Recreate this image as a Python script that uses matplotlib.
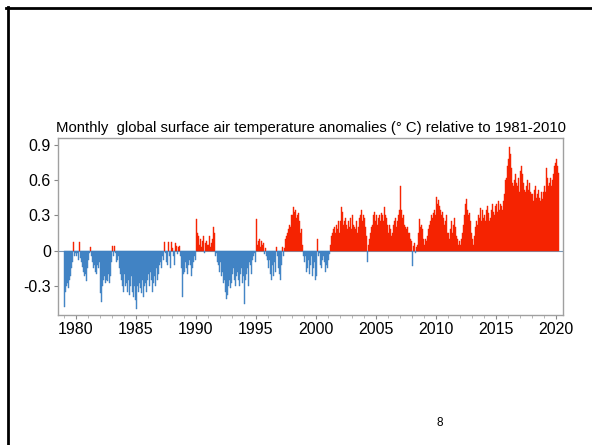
import matplotlib
matplotlib.use("Agg")
import matplotlib.pyplot as plt
from matplotlib.lines import Line2D
import numpy as np

# Monthly anomalies (deg C), Jan 1979 - Mar 2020
anom = {
    1979: [-0.48, -0.35, -0.30, -0.28, -0.32, -0.25, -0.22, -0.15, -0.10, 0.07, -0.05, -0.02],
    1980: [-0.05, -0.02, -0.08, 0.07, -0.06, -0.10, -0.14, -0.18, -0.22, -0.20, -0.26, -0.15],
    1981: [-0.08, -0.02, 0.03, -0.05, -0.10, -0.15, -0.12, -0.18, -0.20, -0.12, -0.15, -0.10],
    1982: [-0.36, -0.44, -0.30, -0.25, -0.22, -0.28, -0.25, -0.26, -0.20, -0.28, -0.22, -0.10],
    1983: [0.04, -0.05, 0.04, -0.02, -0.10, -0.08, -0.05, -0.15, -0.20, -0.25, -0.30, -0.35],
    1984: [-0.20, -0.30, -0.28, -0.35, -0.25, -0.38, -0.30, -0.22, -0.35, -0.40, -0.30, -0.42],
    1985: [-0.50, -0.30, -0.35, -0.28, -0.32, -0.36, -0.25, -0.40, -0.30, -0.28, -0.35, -0.25],
    1986: [-0.20, -0.30, -0.18, -0.25, -0.35, -0.28, -0.22, -0.30, -0.15, -0.25, -0.20, -0.12],
    1987: [-0.10, -0.15, -0.05, -0.08, 0.07, -0.02, -0.10, -0.12, 0.07, -0.05, -0.15, 0.07],
    1988: [0.02, -0.05, -0.12, 0.06, 0.04, -0.03, 0.03, 0.04, -0.05, -0.15, -0.40, -0.20],
    1989: [-0.18, -0.10, -0.15, -0.20, -0.12, -0.08, -0.12, -0.22, -0.15, -0.10, -0.05, -0.08],
    1990: [0.27, 0.15, 0.12, 0.05, 0.10, 0.03, 0.08, 0.12, -0.02, 0.06, 0.08, 0.05],
    1991: [0.05, 0.12, 0.03, 0.06, 0.10, 0.20, 0.15, -0.05, -0.02, -0.10, -0.12, -0.18],
    1992: [-0.10, -0.22, -0.18, -0.28, -0.25, -0.35, -0.41, -0.38, -0.30, -0.25, -0.32, -0.28],
    1993: [-0.20, -0.15, -0.25, -0.30, -0.22, -0.18, -0.25, -0.30, -0.20, -0.15, -0.28, -0.22],
    1994: [-0.46, -0.25, -0.20, -0.15, -0.30, -0.10, -0.12, -0.20, -0.08, -0.05, -0.02, -0.10],
    1995: [0.27, 0.05, 0.08, 0.10, 0.03, 0.08, 0.05, 0.06, -0.03, 0.02, -0.05, -0.08],
    1996: [-0.15, -0.08, -0.20, -0.25, -0.12, -0.22, -0.10, -0.18, 0.03, -0.05, -0.15, -0.20],
    1997: [-0.25, -0.12, 0.03, -0.05, 0.02, 0.10, 0.12, 0.15, 0.18, 0.22, 0.20, 0.30],
    1998: [0.30, 0.37, 0.33, 0.35, 0.28, 0.30, 0.32, 0.25, 0.15, 0.18, 0.05, -0.05],
    1999: [-0.10, -0.05, -0.18, -0.15, -0.08, -0.20, -0.12, -0.05, -0.22, -0.15, -0.10, -0.25],
    2000: [-0.22, 0.10, -0.05, -0.02, -0.12, -0.15, -0.08, -0.05, -0.10, -0.18, -0.12, -0.15],
    2001: [-0.08, -0.03, 0.05, 0.12, 0.15, 0.18, 0.20, 0.15, 0.22, 0.18, 0.25, 0.15],
    2002: [0.25, 0.37, 0.33, 0.22, 0.25, 0.28, 0.22, 0.18, 0.25, 0.20, 0.28, 0.18],
    2003: [0.30, 0.22, 0.20, 0.18, 0.25, 0.15, 0.20, 0.28, 0.30, 0.35, 0.25, 0.30],
    2004: [0.28, 0.20, 0.12, -0.10, 0.05, 0.10, 0.15, 0.20, 0.22, 0.30, 0.33, 0.25],
    2005: [0.30, 0.22, 0.28, 0.30, 0.25, 0.32, 0.30, 0.25, 0.37, 0.30, 0.28, 0.22],
    2006: [0.15, 0.22, 0.18, 0.12, 0.15, 0.22, 0.25, 0.28, 0.20, 0.25, 0.30, 0.35],
    2007: [0.55, 0.35, 0.28, 0.30, 0.22, 0.20, 0.18, 0.20, 0.15, 0.15, 0.10, 0.08],
    2008: [-0.13, 0.04, 0.06, -0.02, 0.03, 0.05, 0.15, 0.27, 0.20, 0.22, 0.18, 0.10],
    2009: [0.05, 0.10, 0.08, 0.12, 0.18, 0.22, 0.25, 0.30, 0.28, 0.32, 0.35, 0.30],
    2010: [0.46, 0.40, 0.43, 0.38, 0.35, 0.30, 0.33, 0.28, 0.22, 0.25, 0.30, 0.15],
    2011: [0.15, 0.10, 0.18, 0.25, 0.15, 0.22, 0.28, 0.20, 0.12, 0.10, 0.05, 0.08],
    2012: [0.05, 0.10, 0.15, 0.22, 0.30, 0.40, 0.44, 0.35, 0.30, 0.32, 0.25, 0.15],
    2013: [0.10, 0.05, 0.12, 0.20, 0.25, 0.22, 0.30, 0.28, 0.36, 0.25, 0.35, 0.28],
    2014: [0.30, 0.25, 0.35, 0.38, 0.32, 0.25, 0.28, 0.35, 0.40, 0.33, 0.30, 0.38],
    2015: [0.40, 0.33, 0.42, 0.35, 0.40, 0.38, 0.35, 0.42, 0.48, 0.60, 0.62, 0.72],
    2016: [0.78, 0.88, 0.82, 0.70, 0.58, 0.55, 0.60, 0.65, 0.58, 0.55, 0.62, 0.50],
    2017: [0.68, 0.72, 0.65, 0.58, 0.52, 0.50, 0.55, 0.60, 0.52, 0.58, 0.50, 0.48],
    2018: [0.48, 0.42, 0.52, 0.55, 0.45, 0.48, 0.52, 0.45, 0.42, 0.50, 0.44, 0.50],
    2019: [0.55, 0.50, 0.70, 0.62, 0.55, 0.58, 0.62, 0.55, 0.60, 0.65, 0.72, 0.75],
    2020: [0.78, 0.72, 0.66],
}
year_ticks = [1980, 1985, 1990, 1995, 2000, 2005, 2010, 2015, 2020]
y_ticks = [-0.3, 0, 0.3, 0.6, 0.9]
y_labels = ["-0.3", "0", "0.3", "0.6", "0.9"]
title = "Monthly  global surface air temperature anomalies (\u00b0 C) relative to 1981-2010"

times, vals = [], []
for yr, lst in anom.items():
    for m, v in enumerate(lst):
        times.append(yr + m / 12.0)
        vals.append(v)
times = np.array(times)
vals = np.array(vals)

plt.rcParams['font.family'] = ['Liberation Sans', 'DejaVu Sans']
fig = plt.figure(figsize=(5.92, 4.45), dpi=100)
ax = fig.add_axes([58/592, 1-315/445, (563-58)/592, (315-138)/445])

pos = vals >= 0
ax.bar(times[pos], vals[pos], width=1/12, align='edge', color='#ff2a05',
       edgecolor='#ee2000', linewidth=0.3)
ax.bar(times[~pos], vals[~pos], width=1/12, align='edge', color='#4a8fd0',
       edgecolor='#3a7abb', linewidth=0.3)
ax.axhline(0, color='#7a98b8', linewidth=0.8, zorder=0.5)

ax.set_xlim(1978.5, 2020.6)
ax.set_ylim(-0.55, 0.96)
ax.set_xticks(year_ticks)
ax.set_xticklabels([str(y) for y in year_ticks])
ax.set_xticks(np.arange(1979, 2021), minor=True)
ax.set_yticks(y_ticks)
ax.set_yticklabels(y_labels)
for s in ax.spines.values():
    s.set_color('#a0a0a0')
    s.set_linewidth(1.0)
ax.tick_params(axis='both', which='major', labelsize=11.5, color='#888888',
               length=3, direction='out', pad=2)
ax.tick_params(axis='x', which='minor', color='#aaaaaa', length=2, direction='out')
ax.set_title(title, fontsize=10.7, pad=4)

# slide frame and page number
fig.add_artist(Line2D([6/592, 1], [1-8/445, 1-8/445], color='black', linewidth=2.0,
                      transform=fig.transFigure))
fig.add_artist(Line2D([8/592, 8/592], [0, 1-7/445], color='black', linewidth=2.0,
                      transform=fig.transFigure))
fig.text(440/592, 1-423/445, "8", fontsize=8.5, ha='center', va='center')

fig.savefig("out.png", dpi=100, facecolor='white')
